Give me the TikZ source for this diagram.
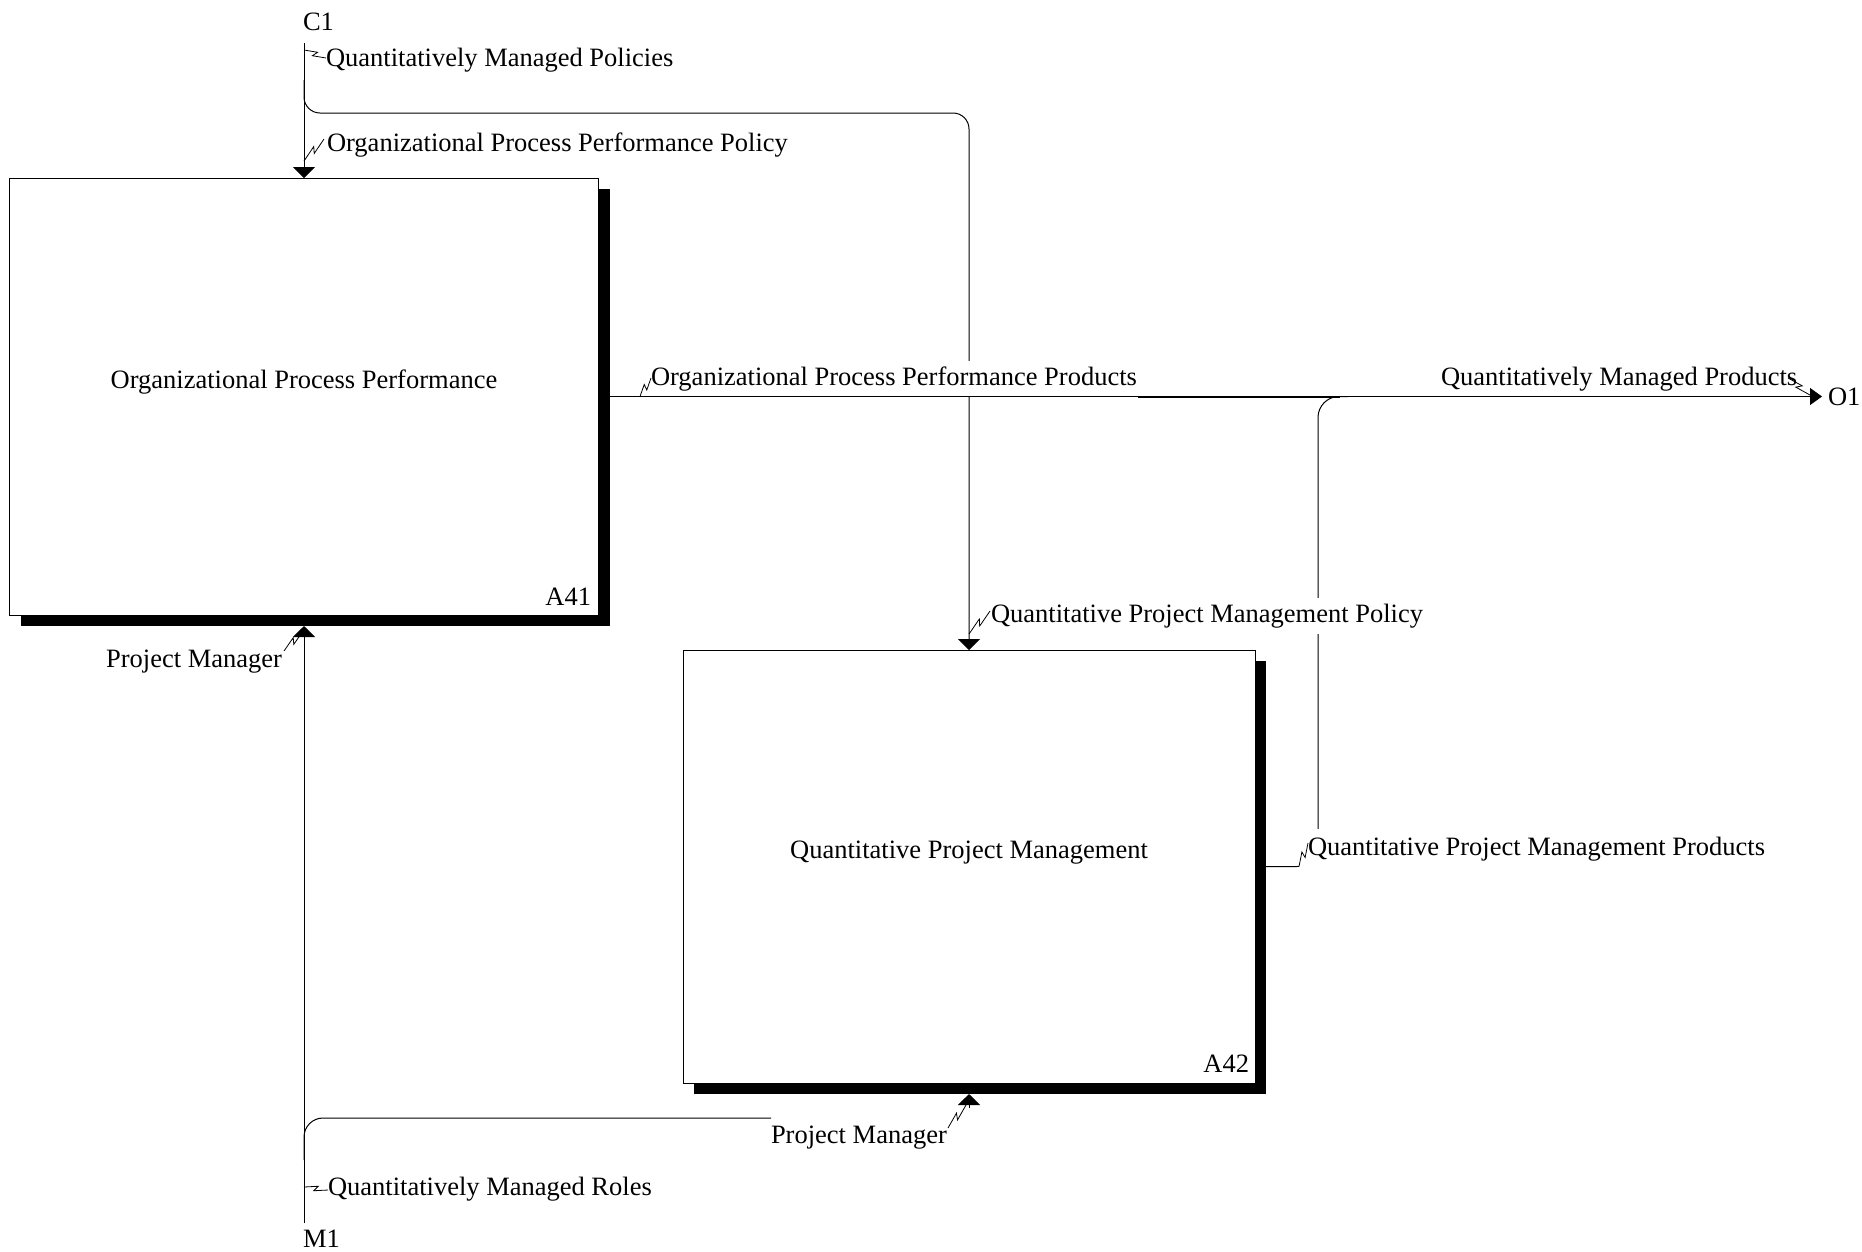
\documentclass[tikz,border=0pt]{standalone}
\usepackage{fontspec}
\setmainfont{Liberation Serif}
\usetikzlibrary{arrows.meta,calc,shadows}
\newcommand\idefsq[2]{\draw[sq] (#1) -- ($(#1)!0.58!(#2)!2.5pt!90:(#2)$) -- ($(#1)!0.42!(#2)!2.5pt!-90:(#2)$) -- (#2);}
\begin{document}
\begin{tikzpicture}[x=1pt,y=-1pt,
  every node/.style={font=\fontsize{26.5pt}{31pt}\selectfont, inner sep=0pt, outer sep=0pt},
  wire/.style={line width=1pt, line join=round},
  flow/.style={wire, -{Triangle[width=22pt,length=11pt]}},
  outflow/.style={wire, -{Triangle[width=17pt,length=12pt]}},
  sq/.style={line width=0.8pt, line join=miter},
  actbox/.style={draw, line width=1pt, fill=white,
    drop shadow={shadow xshift=11pt, shadow yshift=-11pt, fill=black, opacity=1}},
  mask/.style={fill=white, inner xsep=1pt, inner ysep=5pt},
]
\useasboundingbox (0,0) rectangle (1862,1251);

% activity boxes
\node[actbox, minimum width=589pt, minimum height=437pt] (a41) at (304,396.5) {};
\node[actbox, minimum width=572pt, minimum height=433pt] (a42) at (969,866.5) {};
\node[anchor=base] (t41) at (304,388) {Organizational Process Performance};
\node[anchor=base east] (id41) at (591,605) {A41};
\node[anchor=base] (t42) at (969,858) {Quantitative Project Management};
\node[anchor=base east] (id42) at (1249,1072) {A42};

% boundary labels
\node[anchor=base west] (c1) at (303,30) {C1};
\node[anchor=base west] (m1) at (303,1247) {M1};
\node[anchor=base west] (o1) at (1828,405) {O1};

% coordinates
\coordinate (c1top) at (304,43);
\coordinate (c1split) at (304,80);
\coordinate (ctrlturn) at (969,113);
\coordinate (m1bot) at (304,1223);
\coordinate (m1split) at (304,1160);
\coordinate (pmline) at (771,1118);
\coordinate (o1tip) at (1822,396.5);
\coordinate (jn) at (1340,396.5);
\coordinate (qpmturn) at (1318,866.5);
\coordinate (qpmup) at (1318,396.5);
\coordinate (a42mech) at ($(a42.south)+(0,25)$);

% connectors
\draw[flow] (c1top) -- (a41.north);
\draw[flow, rounded corners=16pt] (c1split) |- (ctrlturn) -- (a42.north);
\draw[outflow] (a41.east) -- (o1tip);
\draw[wire, rounded corners=21pt] (a42.east) -- (qpmturn) -- (qpmup) -- ($(jn)+(8,0)$);
\draw[flow] (m1bot) -- ($(a41.south)+(0,11)$);
\draw[wire, rounded corners=19pt] (m1split) |- (pmline);
\draw[flow] (a42mech) -- ($(a42.south)+(0,11)$);

% arrow labels
\node[anchor=base west] (lpol) at (326,66) {Quantitatively Managed Policies};
\node[anchor=base west] (loppp) at (327,151) {Organizational Process Performance Policy};
\node[anchor=base west, mask] (loppr) at (650,385) {Organizational Process Performance Products};
\draw[line width=2pt] (loppr.east |- jn) -- (jn);
\node[anchor=base west] (lqmp) at (1441,385) {Quantitatively Managed Products};
\node[anchor=base west, mask, inner ysep=6pt] (lqpp) at (990,622) {Quantitative Project Management Policy};
\node[anchor=base west, fill=white, inner xsep=9pt, inner ysep=8pt] (lqpr) at (1299,855) {Quantitative Project Management Products};
\node[anchor=base east] (lpm1) at (282,667) {Project Manager};
\node[anchor=base west] (lpm2) at (771,1143) {Project Manager};
\node[anchor=base west] (lrol) at (328,1195) {Quantitatively Managed Roles};

% squiggles
\coordinate (s1a) at (304,50);   \coordinate (s1b) at (326,58);
\coordinate (s2a) at (304,161);  \coordinate (s2b) at (324,139);
\coordinate (s3a) at (303,631);  \coordinate (s3b) at (284,651);
\coordinate (s4a) at (640,396.5);\coordinate (s4b) at (651,378);
\coordinate (s5a) at (1788,378); \coordinate (s5b) at (1810,395);
\coordinate (s6a) at (969,634);  \coordinate (s6b) at (990,611);
\coordinate (s7a) at (1299,866.5);\coordinate (s7b) at (1308,843);
\coordinate (s8a) at (966,1105); \coordinate (s8b) at (948,1128);
\coordinate (s9a) at (304,1187); \coordinate (s9b) at (328,1190);
\idefsq{s1a}{s1b}
\idefsq{s2a}{s2b}
\idefsq{s3a}{s3b}
\idefsq{s4a}{s4b}
\idefsq{s5a}{s5b}
\idefsq{s6a}{s6b}
\idefsq{s7a}{s7b}
\idefsq{s8a}{s8b}
\idefsq{s9a}{s9b}
\end{tikzpicture}
\end{document}
